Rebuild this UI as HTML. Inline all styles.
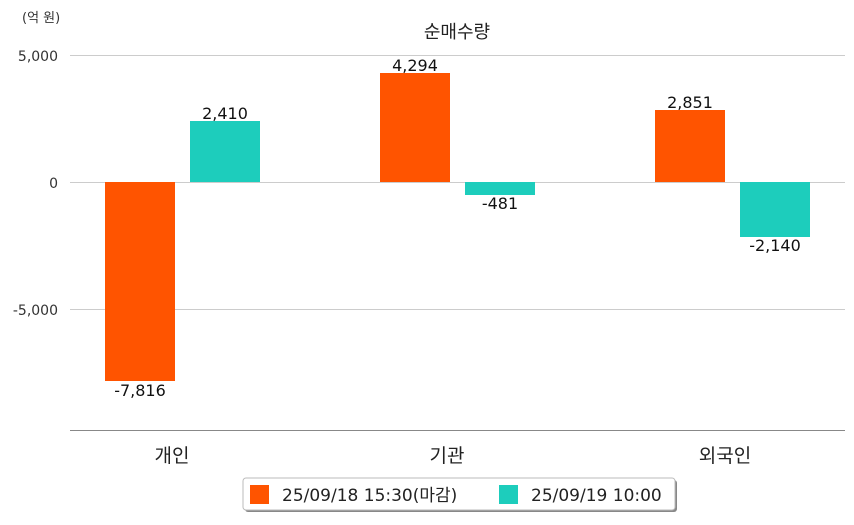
<!DOCTYPE html>
<html><head><meta charset="utf-8"><style>
body{margin:0;background:#fff;}
svg text{font-family:"DejaVu Sans","Noto Sans CJK KR",sans-serif;}
</style></head><body>
<svg width="854" height="520" xmlns="http://www.w3.org/2000/svg">
<rect width="854" height="520" fill="#fff"/>
<text x="22" y="22" font-size="13" fill="#333">(억 원)</text>
<text x="457" y="38" font-size="18" fill="#222" text-anchor="middle">순매수량</text>
<g stroke="#ccc" stroke-width="1">
<line x1="70" y1="55.5" x2="845" y2="55.5"/>
<line x1="70" y1="182.5" x2="845" y2="182.5"/>
<line x1="70" y1="309.5" x2="845" y2="309.5"/>
</g>
<line x1="70" y1="430.5" x2="845" y2="430.5" stroke="#888" stroke-width="1"/>
<g font-size="14" fill="#333" text-anchor="end">
<text x="58" y="61">5,000</text>
<text x="58" y="188">0</text>
<text x="58" y="315">-5,000</text>
</g>
<rect x="105" y="182" width="70" height="199" fill="#ff5400"/>
<rect x="190" y="121" width="70" height="61" fill="#1dcdbc"/>
<rect x="380" y="73" width="70" height="109" fill="#ff5400"/>
<rect x="465" y="182" width="70" height="13" fill="#1dcdbc"/>
<rect x="655" y="110" width="70" height="72" fill="#ff5400"/>
<rect x="740" y="182" width="70" height="55" fill="#1dcdbc"/>
<g font-size="16" fill="#111" text-anchor="middle">
<text x="140" y="396">-7,816</text>
<text x="225" y="119">2,410</text>
<text x="415" y="71">4,294</text>
<text x="500" y="209">-481</text>
<text x="690" y="108">2,851</text>
<text x="775" y="251">-2,140</text>
</g>
<g font-size="19" fill="#222" text-anchor="middle">
<text x="172" y="462">개인</text>
<text x="447" y="462">기관</text>
<text x="725" y="462">외국인</text>
</g>
<rect x="245" y="480" width="432" height="32" rx="3" fill="#888"/>
<rect x="243" y="478" width="432" height="32" rx="3" fill="#fff" stroke="#bbb"/>
<rect x="250" y="485" width="19" height="19" fill="#ff5400"/>
<text x="282" y="501" font-size="17" fill="#222">25/09/18 15:30(마감)</text>
<rect x="499" y="485" width="19" height="19" fill="#1dcdbc"/>
<text x="531" y="501" font-size="17" fill="#222">25/09/19 10:00</text>
</svg>
</body></html>
